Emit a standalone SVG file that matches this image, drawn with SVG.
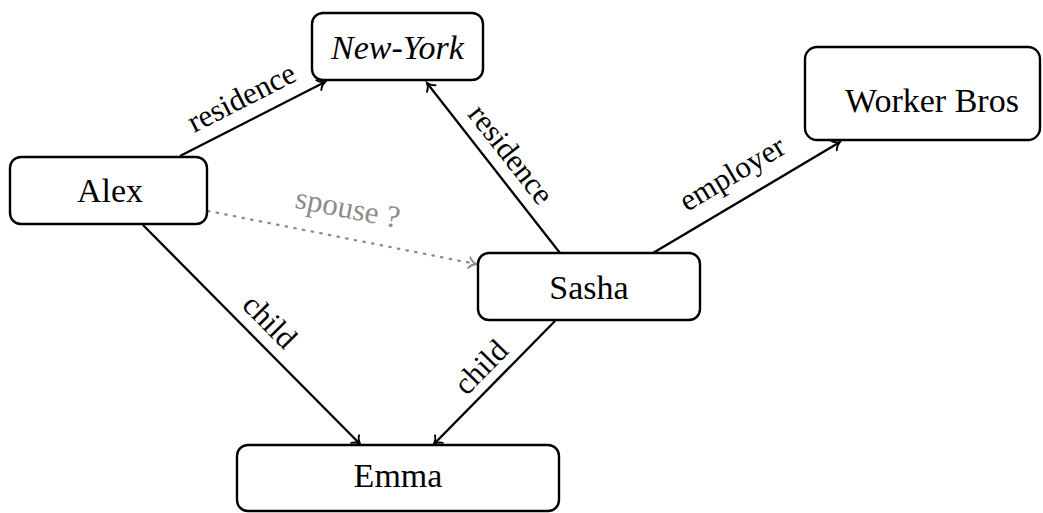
<svg xmlns="http://www.w3.org/2000/svg" width="1043" height="513" viewBox="0 0 1043 513">
<style>
text{font-family:"Liberation Serif","Times New Roman",Times,Tinos,"Noto Serif","DejaVu Serif",serif}
.box{fill:#fff;stroke:#000;stroke-width:2.4}
.nt{font-size:34px;fill:#000;text-anchor:middle}
.it{font-style:italic}
.e{fill:none;stroke:#000;stroke-width:2.3}
.sp{fill:none;stroke:#8c8c8c;stroke-width:2.3;stroke-dasharray:1.4 7.4;stroke-linecap:round}
.lb{font-size:31px;fill:#000;text-anchor:middle}
.lg{fill:#8c8c8c}
</style>
<defs>
<marker id="ar" markerUnits="userSpaceOnUse" markerWidth="20" markerHeight="20" viewBox="-10 -10 20 20" refX="0" refY="0" orient="auto">
<path d="M-7,-5.5 C-5,-2.2 -2,-0.6 0,0 C-2,0.6 -5,2.2 -7,5.5" fill="none" stroke="#000" stroke-width="1.8" stroke-linecap="round"/>
</marker>
<marker id="arg" markerUnits="userSpaceOnUse" markerWidth="20" markerHeight="20" viewBox="-10 -10 20 20" refX="0" refY="0" orient="auto">
<path d="M-7,-5.5 C-5,-2.2 -2,-0.6 0,0 C-2,0.6 -5,2.2 -7,5.5" fill="none" stroke="#8c8c8c" stroke-width="1.8" stroke-linecap="round"/>
</marker>
</defs>
<g id="connectors">
<line class="e" x1="180" y1="156" x2="325" y2="82" marker-end="url(#ar)"/>
<line class="e" x1="560" y1="253" x2="427" y2="83" marker-end="url(#ar)"/>
<line class="e" x1="653" y1="253" x2="840" y2="142" marker-end="url(#ar)"/>
<line class="e" x1="143" y1="225" x2="360" y2="444" marker-end="url(#ar)"/>
<line class="e" x1="555" y1="321" x2="434" y2="444" marker-end="url(#ar)"/>
<line class="sp" x1="208" y1="211" x2="476" y2="264" marker-end="url(#arg)"/>
<g transform="translate(252.5,119) rotate(-27)"><text class="lb" x="0" y="-14" font-family="Liberation Serif, serif">residence</text></g>
<g transform="translate(493.5,168) rotate(51.8)"><text class="lb" x="0" y="-12" font-family="Liberation Serif, serif">residence</text></g>
<g transform="translate(746.5,197.5) rotate(-30.7)"><text class="lb" x="0" y="-18" font-family="Liberation Serif, serif">employer</text></g>
<g transform="translate(254,337) rotate(45.3)"><text class="lb" x="0" y="-12" font-family="Liberation Serif, serif">child</text></g>
<g transform="translate(496,382) rotate(-45.5)"><text class="lb" x="0" y="-11" font-family="Liberation Serif, serif">child</text></g>
<g transform="translate(342,237.5) rotate(11.2)"><text class="lb lg" x="0" y="-20" font-family="Liberation Serif, serif">spouse ?</text></g>
</g>
<g id="newyork">
<rect class="box" x="312" y="13" width="171" height="67" rx="11"/>
<text class="nt it" x="397.5" y="58.5" font-family="Liberation Serif, serif">New-York</text>
</g>
<g id="alex">
<rect class="box" x="10" y="157" width="197" height="67" rx="11"/>
<text class="nt" x="110" y="202" font-family="Liberation Serif, serif">Alex</text>
</g>
<g id="sasha">
<rect class="box" x="478" y="253" width="222" height="67" rx="11"/>
<text class="nt" x="589" y="299" font-family="Liberation Serif, serif">Sasha</text>
</g>
<g id="workerbros">
<rect class="box" x="805" y="47" width="235" height="93" rx="12"/>
<text class="nt" x="932" y="112" font-family="Liberation Serif, serif">Worker Bros</text>
</g>
<g id="emma">
<rect class="box" x="237" y="445" width="322" height="66" rx="11"/>
<text class="nt" x="398" y="487" font-family="Liberation Serif, serif">Emma</text>
</g>
</svg>
